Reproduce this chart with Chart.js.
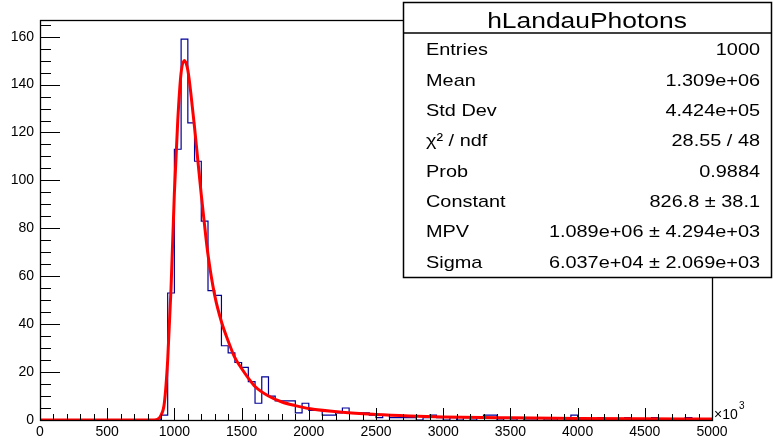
<!DOCTYPE html>
<html>
<head>
<meta charset="utf-8">
<title>hLandauPhotons</title>
<script src="https://cdn.jsdelivr.net/npm/chart.js@4.4.1/dist/chart.umd.min.js"></script>
<style>
  html, body { margin: 0; padding: 0; background: #fff; }
  #c { display: block; }
</style>
</head>
<body>
<canvas id="c" width="773" height="442"></canvas>
<script>
'use strict';

// ── Data ──────────────────────────────────────────────
const binWidth = 50;            // x in units of 10^3
const binCounts = [
    0, 0, 0, 0, 0, 0, 0, 0, 0, 0,
    0, 0, 0, 0, 0, 0, 0, 0, 2, 53,
    113, 159, 124, 108, 83, 54, 52, 31, 28, 24,
    22, 16, 7, 18, 10, 8, 8, 8, 3, 7,
    4, 4, 2, 2, 3, 5, 3, 3, 3, 2,
    1, 2, 1, 1, 1, 1, 0, 1, 2, 1,
    0, 1, 0, 1, 0, 1, 2, 2, 0, 1,
    0, 1, 0, 0, 1, 0, 0, 1, 0, 2,
    1, 0, 0, 1, 0, 0, 0, 1, 0, 0,
    0, 1, 0, 0, 0, 0, 1, 0, 0, 0
];

// Landau fit curve (red), sampled points
const fitX = [0, 850, 875, 900, 925, 950, 975, 1000, 1025, 1050, 1075, 1100, 1125, 1150, 1175,
              1200, 1225, 1250, 1300, 1350, 1400, 1450, 1500, 1550, 1600, 1700, 1800, 1900,
              2000, 2250, 2500, 2750, 3000, 3500, 4000, 4500, 5000];
const fitY = [0, 0, 0.3, 2, 7, 25, 55, 95, 125, 145, 150, 146, 135, 122, 108,
              94, 81, 69, 52, 41, 33, 26, 21.5, 17.5, 14, 10, 7.5, 6,
              4.8, 3.2, 2.3, 1.7, 1.3, 0.9, 0.65, 0.5, 0.4];

const xTicks = [0, 500, 1000, 1500, 2000, 2500, 3000, 3500, 4000, 4500, 5000];
const yTicks = [0, 20, 40, 60, 80, 100, 120, 140, 160];
const yMax = 166.95;

const statsTitle = 'hLandauPhotons';
const statsLabels = ['Entries', 'Mean', 'Std Dev', 'χ² / ndf', 'Prob', 'Constant', 'MPV', 'Sigma'];
const statsValues = ['1000', '1.309e+06', '4.424e+05', '28.55 / 48', '0.9884',
                     '826.8 ± 38.1', '1.089e+06 ± 4.294e+03', '6.037e+04 ± 2.069e+03'];

// ── Build datasets ────────────────────────────────────
const histPoints = binCounts.map((v, i) => ({ x: i * binWidth, y: v }));
histPoints.push({ x: binCounts.length * binWidth, y: binCounts[binCounts.length - 1] });
const fitPoints = fitX.map((x, i) => ({ x: x, y: fitY[i] }));

const FONT = '"Liberation Sans", Arial, Helvetica, sans-serif';

function drawText(ctx, txt, x, y, size, align, sx) {
    ctx.save();
    ctx.font = size + 'px ' + FONT;
    ctx.textAlign = align;
    ctx.textBaseline = 'alphabetic';
    ctx.fillStyle = '#000';
    ctx.translate(x, y);
    ctx.scale(sx, 1);
    ctx.fillText(txt, 0, 0);
    ctx.restore();
}

// frame, inner ticks, exponent and stats box
const rootFrame = {
    id: 'rootFrame',
    afterDraw(chart) {
        const ctx = chart.ctx;
        const a = chart.chartArea;
        const xs = chart.scales.x;
        const ys = chart.scales.y;

        ctx.save();
        ctx.strokeStyle = '#000';
        ctx.lineWidth = 1;
        ctx.beginPath();
        // y ticks (inside)
        for (let v = 0; v <= yMax; v += 5) {
            const py = Math.round(ys.getPixelForValue(v)) + 0.5;
            const len = v % 20 === 0 ? 20 : 11;
            ctx.moveTo(a.left, py);
            ctx.lineTo(a.left + len, py);
        }
        // x ticks (inside)
        for (let v = 0; v <= 5000; v += 100) {
            const px = Math.round(xs.getPixelForValue(v)) + 0.5;
            const len = v % 500 === 0 ? 12 : 6;
            ctx.moveTo(px, a.bottom);
            ctx.lineTo(px, a.bottom - len);
        }
        ctx.stroke();

        ctx.lineWidth = 1.3;
        ctx.strokeRect(Math.round(a.left) + 0.5, Math.round(a.top) + 0.5,
                       Math.round(a.right - a.left), Math.round(a.bottom - a.top));
        ctx.restore();

        // x10^3
        drawText(ctx, '×10', a.right + 2, a.bottom - 1, 14, 'left', 1);
        drawText(ctx, '3', a.right + 27, a.bottom - 11, 10, 'left', 1);

        // stats box
        const bx = 403, by = 2, bw = 368, bh = 275;
        ctx.save();
        ctx.fillStyle = '#fff';
        ctx.fillRect(bx, by, bw, bh);
        ctx.strokeStyle = '#000';
        ctx.lineWidth = 1.5;
        ctx.strokeRect(bx + 0.5, by + 0.5, bw, bh);
        ctx.beginPath();
        ctx.moveTo(bx, 33);
        ctx.lineTo(bx + bw, 33);
        ctx.stroke();
        ctx.restore();

        drawText(ctx, statsTitle, bx + bw / 2, 28, 22, 'center', 1.2);
        statsLabels.forEach((lab, i) => {
            const yb = 55.3 + i * 30.35;
            drawText(ctx, lab, 426, yb, 17, 'left', 1.17);
            drawText(ctx, statsValues[i], 760, yb, 17, 'right', 1.17);
        });
    }
};

new Chart(document.getElementById('c'), {
    type: 'line',
    data: {
        datasets: [
            {
                label: 'landau fit',
                data: fitPoints,
                borderColor: '#ff0000',
                borderWidth: 3,
                pointRadius: 0,
                cubicInterpolationMode: 'monotone',
                fill: false,
                order: 0
            },
            {
                label: 'hLandauPhotons',
                data: histPoints,
                borderColor: '#000099',
                borderWidth: 1.2,
                pointRadius: 0,
                stepped: 'before',
                fill: false,
                order: 1
            }
        ]
    },
    options: {
        responsive: false,
        animation: false,
        devicePixelRatio: 1,
        layout: { padding: { top: 20, right: 61, bottom: 0, left: 0 } },
        plugins: {
            legend: { display: false },
            tooltip: { enabled: false }
        },
        scales: {
            x: {
                type: 'linear',
                min: 0,
                max: 5000,
                grid: { display: false, drawTicks: false },
                border: { display: false },
                afterBuildTicks: (axis) => { axis.ticks = xTicks.map(v => ({ value: v })); },
                afterFit: (axis) => { axis.height = 22; },
                ticks: {
                    autoSkip: false,
                    maxRotation: 0,
                    padding: 4,
                    color: '#000',
                    font: { family: FONT, size: 14 },
                    callback: (v) => String(v)
                }
            },
            y: {
                type: 'linear',
                min: 0,
                max: yMax,
                grid: { display: false, drawTicks: false },
                border: { display: false },
                afterBuildTicks: (axis) => { axis.ticks = yTicks.map(v => ({ value: v })); },
                afterFit: (axis) => { axis.width = 40; },
                ticks: {
                    autoSkip: false,
                    padding: 6,
                    color: '#000',
                    font: { family: FONT, size: 14 },
                    callback: (v) => String(v)
                }
            }
        }
    },
    plugins: [rootFrame]
});
</script>
</body>
</html>
